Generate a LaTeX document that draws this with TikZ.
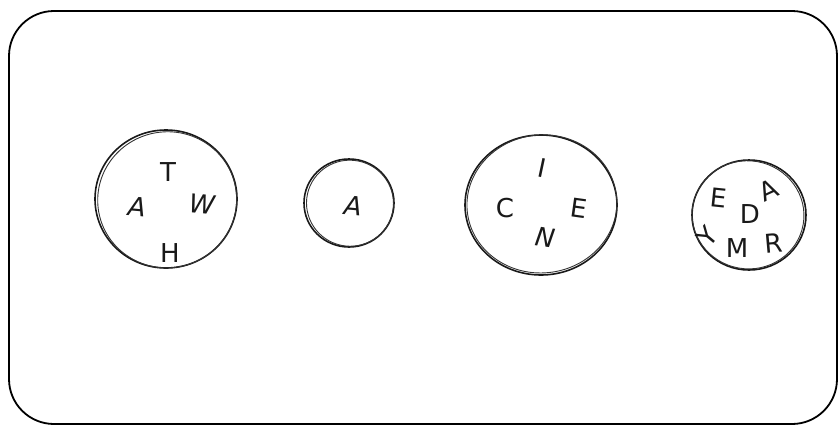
\documentclass[tikz,border=0pt]{standalone}
\usepackage{fontspec}
\setmainfont{DejaVu Sans}
\begin{document}
\begin{tikzpicture}[x=1pt,y=-1pt,
  ring/.style={line width=1.6pt, black!90},
  ringb/.style={line width=0.9pt, black!80},
  letter/.style={font=\fontsize{26}{26}\selectfont, inner sep=0pt, text=black!90},
  frame/.style={line width=1.8pt, rounded corners=45pt}]
\useasboundingbox (0,0) rectangle (838,426);
\draw[frame] (9,11) rectangle (837,424);

% circle 1: WHAT
\draw[ring] (166,199) ellipse [x radius=71, y radius=69];
\draw[ringb, rotate around={10:(166,199)}] (167,200) ellipse [x radius=69.5, y radius=68];
\node[letter] (t1) at (168,172) {T};
\node[letter, rotate=-5] (a1) at (137,207) {\itshape A};
\node[letter, rotate=-5] (w1) at (202,204) {\itshape W};
\node[letter] (h1) at (170,253) {H};

% circle 2: A
\draw[ring] (349,203) ellipse [x radius=45, y radius=44];
\draw[ringb, rotate around={-12:(349,203)}] (350,203) ellipse [x radius=43.5, y radius=43];
\node[letter, rotate=-5] (a2) at (353,206) {\itshape A};

% circle 3: NICE
\draw[ring] (541,205) ellipse [x radius=76, y radius=70];
\draw[ringb, rotate around={6:(541,205)}] (542,204) ellipse [x radius=75, y radius=69];
\node[letter, rotate=-12] (i3) at (542,168) {I};
\node[letter] (c3) at (505,208) {C};
\node[letter, rotate=-8] (e3) at (579,208) {E};
\node[letter, rotate=-8] (n3) at (545,237) {\itshape N};

% circle 4: DREAMY
\draw[ring] (749,215) ellipse [x radius=57, y radius=55];
\draw[ringb, rotate around={-10:(749,215)}] (748,215) ellipse [x radius=56, y radius=54];
\node[letter, rotate=-6] (e4) at (719,198) {E};
\node[letter, rotate=25] (a4) at (769,190) {A};
\node[letter] (d4) at (750,214) {D};
\node[letter, rotate=50] (y4) at (707,236) {Y};
\node[letter] (m4) at (737,248) {M};
\node[letter, rotate=5] (r4) at (774,243) {R};
\end{tikzpicture}
\end{document}
